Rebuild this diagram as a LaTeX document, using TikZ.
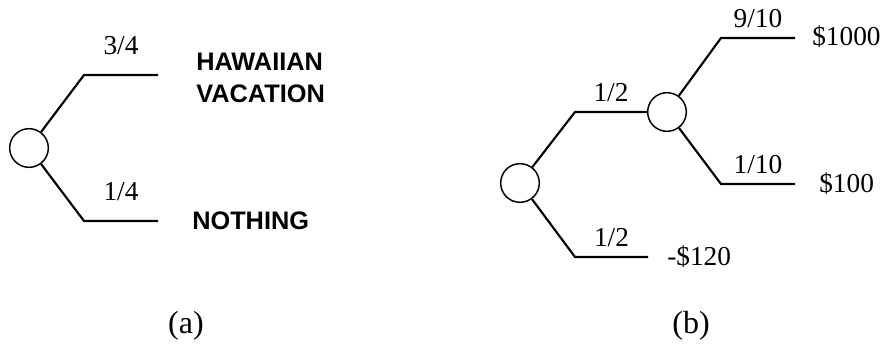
\documentclass[tikz,border=0pt]{standalone}
\usepackage{fontspec}
\setmainfont{Liberation Serif}
\setsansfont{Liberation Sans}
\tikzset{
    noeud/.style={draw, circle, line width=1.1pt, minimum size=29pt, inner sep=0pt},
    branche/.style={line width=1.6pt},
    proba/.style={above=7pt, inner sep=0pt, font=\fontsize{20.5}{24}\selectfont},
    probaloin/.style={above=14pt, inner sep=0pt, font=\fontsize{20.5}{24}\selectfont},
    gain/.style={anchor=west, inner sep=0pt, font=\fontsize{20.5}{24}\selectfont},
    issue/.style={anchor=west, inner sep=0pt, align=left, font=\sffamily\bfseries\fontsize{19}{24}\selectfont},
    legende/.style={font=\fontsize{24}{28}\selectfont}
}
\begin{document}
\begin{tikzpicture}[x=0.75pt, y=-0.75pt]
    \useasboundingbox (0,0) rectangle (883,345);

    % Arbre (a)
    \node[noeud] (a0) at (29,148) {};
    \coordinate (a1) at (84,75);
    \coordinate (a2) at (158,75);
    \coordinate (a3) at (84,221);
    \coordinate (a4) at (158,221);
    \draw[branche] (a0) -- (a1) -- node[probaloin] {3/4} (a2);
    \draw[branche] (a0) -- (a3) -- node[probaloin] {1/4} (a4);
    \node[issue] (vac) at (196,78) {HAWAIIAN\\VACATION};
    \node[issue] (rien) at (192,221) {NOTHING};

    % Arbre (b)
    \node[noeud] (b0) at (520,183) {};
    \node[noeud] (c0) at (667,112) {};
    \coordinate (b1) at (575,112);
    \coordinate (b3) at (575,257);
    \coordinate (b4) at (648,257);
    \coordinate (c1) at (721,38);
    \coordinate (c2) at (795,38);
    \coordinate (c3) at (721,184);
    \coordinate (c4) at (795,184);
    \draw[branche] (b0) -- (b1) -- node[proba] {1/2} (c0);
    \draw[branche] (b0) -- (b3) -- node[proba] {1/2} (b4);
    \draw[branche] (c0) -- (c1) -- node[proba] {9/10} (c2);
    \draw[branche] (c0) -- (c3) -- node[proba] {1/10} (c4);

    % Gains
    \node[gain] (g1) at (812,37) {\$1000};
    \node[gain] (g2) at (819,184) {\$100};
    \node[gain] (g3) at (667,257) {-\$120};

    % Legendes
    \node[legende] (la) at (186,326) {(a)};
    \node[legende] (lb) at (691,326) {(b)};
\end{tikzpicture}
\end{document}
